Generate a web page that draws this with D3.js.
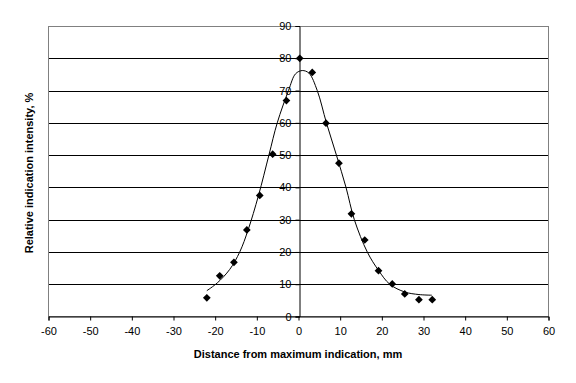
<!DOCTYPE html>
<html lang="en">
<head>
  <meta charset="UTF-8">
  <title>Relative indication intensity</title>
  <style>
    body {
      margin: 0;
      padding: 0;
      background-color: white;
      font-family: Arial, "Liberation Sans", sans-serif;
    }

    .tick-label {
      font-size: 11px;
      fill: black;
    }

    .axis-title {
      font-size: 11px;
      font-weight: bold;
      fill: black;
    }
  </style>
</head>
<body>
  <div id="chart"></div>

  <script src="https://d3js.org/d3.v7.min.js"></script>
  <script>
    // measured points (distance mm, intensity %)
    const distances = [-22, -18.9, -15.5, -12.4, -9.3, -6.2, -2.9, 0.3, 3.3, 6.6, 9.7, 12.7, 15.9, 19.2, 22.5, 25.5, 28.9, 32.1];
    const intensities = [5.8, 12.6, 16.8, 26.8, 37.5, 50.3, 66.9, 80, 75.6, 59.9, 47.5, 31.8, 23.7, 14.2, 10.1, 7.0, 5.2, 5.2];

    // fitted curve
    const curveX = [-22, -19.5, -16.5, -14.1, -12.1, -9.6, -7.1, -5.1, -2.4, -0.7, 0.9, 2.5, 4.5, 6.7, 9.1, 11.4, 13.4, 16.5, 19.2, 21.9, 25.5, 28.9, 32];
    const curveY = [8.0, 10.4, 14.6, 20, 26.8, 37.5, 50, 60, 70, 75.2, 76.2, 75.4, 70, 60, 50, 40, 30, 20, 14.3, 10, 7.6, 6.8, 6.6];

    const xTicks = [-60, -50, -40, -30, -20, -10, 0, 10, 20, 30, 40, 50, 60];
    const yTicks = [0, 10, 20, 30, 40, 50, 60, 70, 80, 90];

    const width = 576;
    const height = 383;
    const plot = { left: 48.5, right: 548.5, top: 26, bottom: 316.5 };

    const svg = d3.select('#chart').append('svg')
      .attr('width', width)
      .attr('height', height);

    const x = d3.scaleLinear().domain([-60, 60]).range([plot.left, plot.right]);
    const y = d3.scaleLinear().domain([0, 90]).range([plot.bottom, plot.top]);

    // horizontal gridlines
    svg.selectAll('.grid')
      .data(yTicks.filter(t => t > 0 && t < 90))
      .enter().append('line')
      .attr('x1', plot.left).attr('x2', plot.right)
      .attr('y1', d => Math.round(y(d)) + 0.5)
      .attr('y2', d => Math.round(y(d)) + 0.5)
      .style('stroke', 'black')
      .style('stroke-width', 1);

    // plot area border (grey)
    svg.append('rect')
      .attr('x', plot.left).attr('y', plot.top + 0.5)
      .attr('width', plot.right - plot.left)
      .attr('height', plot.bottom - plot.top - 0.5)
      .style('fill', 'none')
      .style('stroke', '#808080');

    // x axis at y = 0 (plain hyphen for negatives, like the original)
    const xAxis = d3.axisBottom(x).tickValues(xTicks).tickSize(4).tickFormat(d => String(d));
    const gx = svg.append('g')
      .attr('transform', `translate(0,${plot.bottom})`)
      .call(xAxis);
    gx.select('.domain').style('stroke', 'black');
    gx.selectAll('.tick line').style('stroke', 'black');
    gx.selectAll('.tick text')
      .attr('class', 'tick-label')
      .attr('y', 11)
      .style('font-family', 'Arial, "Liberation Sans", sans-serif')
      .style('font-size', '11px');

    // y axis crossing at x = 0
    const yAxis = d3.axisLeft(y).tickValues(yTicks).tickSize(4).tickPadding(4).tickFormat(d => String(d));
    const gy = svg.append('g')
      .attr('transform', `translate(${Math.round(x(0)) + 0.5},0)`)
      .call(yAxis);
    gy.select('.domain').style('stroke', 'black');
    gy.selectAll('.tick line').style('stroke', 'black');
    gy.selectAll('.tick text')
      .attr('class', 'tick-label')
      .style('font-family', 'Arial, "Liberation Sans", sans-serif')
      .style('font-size', '11px');

    // trend curve
    const curvePts = curveX.map((d, i) => [d, curveY[i]]);
    const line = d3.line()
      .x(d => x(d[0]))
      .y(d => y(d[1]))
      .curve(d3.curveCatmullRom.alpha(0.5));

    svg.append('path')
      .datum(curvePts)
      .attr('d', line)
      .style('fill', 'none')
      .style('stroke', 'black')
      .style('stroke-width', 1);

    // diamond markers
    const diamond = d3.symbol().type(d3.symbolSquare).size(30);
    svg.selectAll('.marker')
      .data(distances.map((d, i) => [d, intensities[i]]))
      .enter().append('path')
      .attr('d', diamond)
      .attr('transform', d => `translate(${x(d[0])},${y(d[1])}) rotate(45)`)
      .style('fill', 'black');

    // axis titles
    svg.append('text')
      .attr('class', 'axis-title')
      .attr('x', 298)
      .attr('y', 358)
      .attr('text-anchor', 'middle')
      .text('Distance from maximum indication, mm');

    svg.append('text')
      .attr('class', 'axis-title')
      .attr('transform', 'translate(33,173) rotate(-90)')
      .attr('text-anchor', 'middle')
      .text('Relative indication intensity, %');
  </script>
</body>
</html>
